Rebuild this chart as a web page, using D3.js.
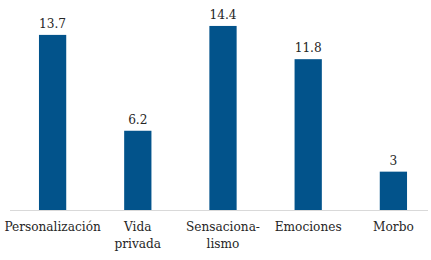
<!DOCTYPE html>
<html>
<head>
<meta charset="utf-8">
<script src="https://cdn.jsdelivr.net/npm/d3@7"></script>
<style>
  body { margin: 0; background: #fff; }
</style>
</head>
<body>
<div id="chart"></div>
<script>
const categories = ["Personalización", "Vida privada", "Sensacionalismo", "Emociones", "Morbo"];
const labelLines = [["Personalización"], ["Vida", "privada"], ["Sensaciona-", "lismo"], ["Emociones"], ["Morbo"]];
const values = [13.7, 6.2, 14.4, 11.8, 3];
const valueLabels = ["13.7", "6.2", "14.4", "11.8", "3"];

const width = 431, height = 260;
const FONT = "'DejaVu Serif Condensed', 'DejaVu Serif', serif";

const svg = d3.select("#chart")
    .append("svg")
    .attr("width", width)
    .attr("height", height)
    .attr("font-family", FONT);

const x = d3.scaleBand().domain(categories).range([10, 436]).paddingInner(0.68).paddingOuter(0.34);
const y = d3.scaleLinear().domain([0, 16]).range([210, 5.5]);

// baseline
svg.append("line")
    .attr("x1", 10).attr("x2", 428)
    .attr("y1", y(0) + 0.5).attr("y2", y(0) + 0.5)
    .attr("stroke", "#d9d9d9");

svg.selectAll("rect.bar")
    .data(values)
    .enter().append("rect")
    .attr("class", "bar")
    .attr("x", (d, i) => x(categories[i]))
    .attr("y", d => y(d))
    .attr("width", x.bandwidth())
    .attr("height", d => y(0) - y(d))
    .attr("fill", "#02538b");

svg.selectAll("text.val")
    .data(values)
    .enter().append("text")
    .attr("class", "val")
    .attr("x", (d, i) => x(categories[i]) + x.bandwidth() / 2)
    .attr("y", d => y(d) - 7)
    .attr("text-anchor", "middle")
    .attr("fill", "#262626")
    .style("font-family", FONT)
    .style("font-stretch", "condensed")
    .style("font-size", "13.5px")
    .text((d, i) => valueLabels[i]);

const lab = svg.selectAll("text.cat")
    .data(labelLines)
    .enter().append("text")
    .attr("class", "cat")
    .attr("x", (d, i) => x(categories[i]) + x.bandwidth() / 2)
    .attr("y", 231)
    .attr("text-anchor", "middle")
    .attr("fill", "#262626")
    .style("font-family", FONT)
    .style("font-stretch", "condensed")
    .style("font-size", "13.5px");

lab.selectAll("tspan")
    .data(d => d)
    .enter().append("tspan")
    .attr("x", function () { return d3.select(this.parentNode).attr("x"); })
    .attr("dy", (d, i) => i === 0 ? 0 : 17)
    .text(d => d);
</script>
</body>
</html>
